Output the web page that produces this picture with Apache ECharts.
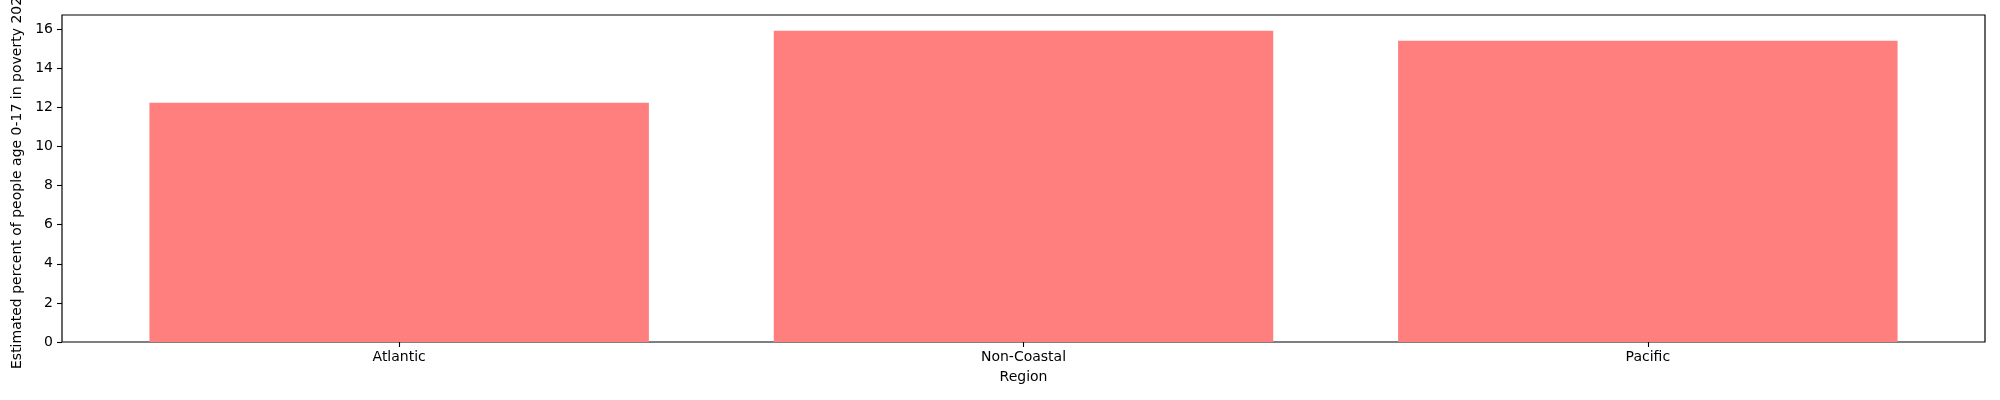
<!DOCTYPE html>
<html>
<head>
<meta charset="utf-8">
<script src="https://cdn.jsdelivr.net/npm/echarts@6/dist/echarts.min.js"></script>
<style>html,body{margin:0;padding:0;background:#fff}#c{width:2000px;height:400px}</style>
</head>
<body>
<div id="c"></div>
<script>
const categories = ['Atlantic', 'Non-Coastal', 'Pacific'];
const values = [12.23, 15.92, 15.40];
const yTicks = [0, 2, 4, 6, 8, 10, 12, 14, 16];
const yLabel = 'Estimated percent of people age 0-17 in poverty 2021';
const xLabel = 'Region';

const chart = echarts.init(document.getElementById('c'), null, {renderer: 'canvas'});
const font = 'DejaVu Sans';
const yMax = 16.72;
chart.setOption({
  animation: false,
  backgroundColor: '#fff',
  textStyle: {fontFamily: font},
  grid: [
    {left: 62, right: 15, top: 15, bottom: 58, show: true, borderColor: '#000', borderWidth: 1.2,
     backgroundColor: 'transparent', containLabel: false, outerBoundsMode: 'none'},
    {left: 87, right: 40, top: 15, bottom: 58, containLabel: false, outerBoundsMode: 'none'}
  ],
  xAxis: [
    {gridIndex: 0, type: 'category', data: categories, show: false},
    {gridIndex: 1, type: 'category', data: categories,
     axisLine: {show: false},
     axisTick: {show: true, alignWithLabel: true, length: 5, lineStyle: {color: '#000', width: 1.1}},
     axisLabel: {color: '#000', fontSize: 14, fontFamily: font, margin: 8},
     name: xLabel, nameLocation: 'middle', nameGap: 28,
     nameTextStyle: {color: '#000', fontSize: 14, fontFamily: font}}
  ],
  yAxis: [
    {gridIndex: 0, type: 'value', min: 0, max: yMax, interval: 2,
     axisLine: {show: false},
     splitLine: {show: false},
     axisTick: {show: true, length: 5, lineStyle: {color: '#000', width: 1.1}},
     axisLabel: {color: '#000', fontSize: 14, fontFamily: font, margin: 9, showMaxLabel: false,
       formatter: v => (yTicks.indexOf(v) >= 0 ? String(v) : '')},
     name: yLabel, nameLocation: 'middle', nameGap: 29, nameRotate: 90,
     nameTextStyle: {color: '#000', fontSize: 14, fontFamily: font}},
    {gridIndex: 1, type: 'value', min: 0, max: yMax, show: false}
  ],
  series: [{
    type: 'bar', xAxisIndex: 1, yAxisIndex: 1,
    data: values, barWidth: '80%',
    itemStyle: {color: '#ff7f7f'}
  }]
});
</script>
</body>
</html>
